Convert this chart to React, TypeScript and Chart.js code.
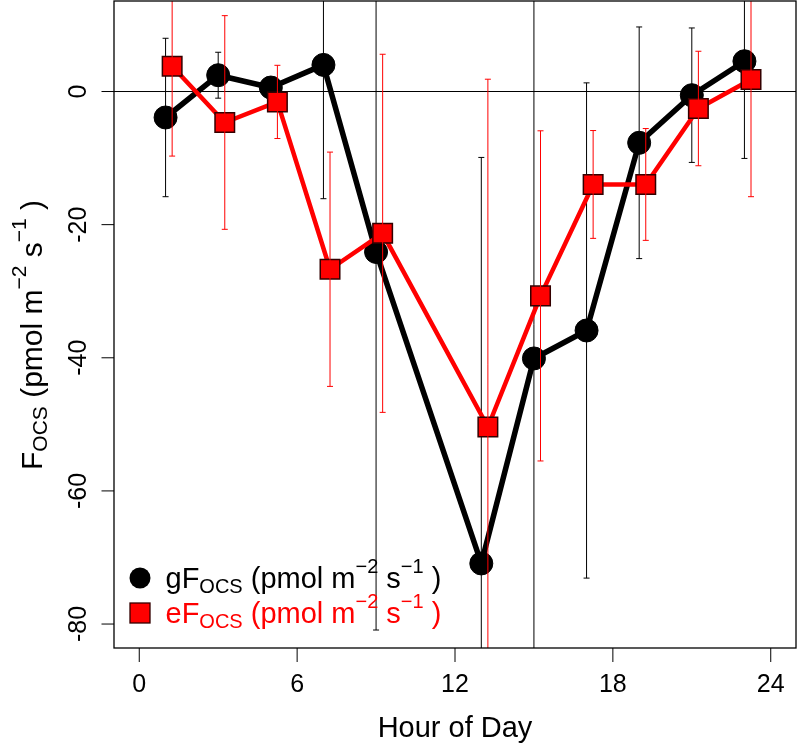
import React, { useEffect, useRef } from 'react';
import { Chart, registerables } from 'chart.js';
Chart.register(...registerables);

// ---- data ----
const hoursG = [1, 3, 5, 7, 9, 13, 15, 17, 19, 21, 23];
const hoursE = [1.25, 3.25, 5.25, 7.25, 9.25, 13.25, 15.25, 17.25, 19.25, 21.25, 23.25];
const gFocs = [-3.9, 2.45, 0.6, 4.0, -24.1, -70.9, -40.1, -35.9, -7.7, -0.55, 4.55];
const gFocsErr = [11.9, 3.45, 1.0, 20.1, 56.8, 61.0, 60.0, 37.2, 17.4, 10.1, 14.6];
const eFocs = [3.8, -4.65, -1.56, -26.7, -21.3, -50.4, -30.7, -13.96, -13.96, -2.55, 1.8];
const eFocsErr = [13.5, 16.05, 5.5, 17.6, 26.9, 52.25, 24.8, 8.1, 8.4, 8.6, 17.6];
const xTicks = [0, 6, 12, 18, 24];
const yTicks = [-80, -60, -40, -20, 0];
const xTitle = 'Hour of Day';
const X_MIN = -0.96, X_MAX = 24.96, Y_MIN = -83.6, Y_MAX = 13.6;

const FONT = '"Liberation Sans", Arial, Helvetica, sans-serif';
const RED = '#ff0000';

type Seg = { t: string; s: number; dy: number };
function richSegs(prefix: string, size: number): Seg[] {
  const small = Math.round(size * 0.7);
  return [
    { t: prefix, s: size, dy: 0 },
    { t: 'OCS', s: small, dy: size * 0.15 },
    { t: ' (pmol m', s: size, dy: 0 },
    { t: '\u22122', s: small, dy: -size * 0.52 },
    { t: ' s', s: size, dy: 0 },
    { t: '\u22121', s: small, dy: -size * 0.52 },
    { t: ' )', s: size, dy: 0 },
  ];
}
function drawRich(ctx: CanvasRenderingContext2D, segs: Seg[], x: number, y: number, color: string) {
  ctx.fillStyle = color;
  ctx.textAlign = 'left';
  ctx.textBaseline = 'alphabetic';
  let cx = x;
  for (const sg of segs) {
    ctx.font = `${sg.s}px ${FONT}`;
    ctx.fillText(sg.t, cx, y + sg.dy);
    cx += ctx.measureText(sg.t).width;
  }
  return cx - x;
}

function drawErr(chart: any, xs: number[], ys: number[], errs: number[], color: string) {
  const { ctx, chartArea: a, scales } = chart;
  const xs_ = scales.x, ys_ = scales.y;
  ctx.save();
  ctx.beginPath();
  ctx.rect(a.left, a.top, a.right - a.left, a.bottom - a.top);
  ctx.clip();
  ctx.strokeStyle = color;
  ctx.lineWidth = 1;
  xs.forEach((h, i) => {
    const px = xs_.getPixelForValue(h);
    const top = ys_.getPixelForValue(ys[i] + errs[i]);
    const bot = ys_.getPixelForValue(ys[i] - errs[i]);
    ctx.beginPath();
    ctx.moveTo(px, top); ctx.lineTo(px, bot);
    ctx.moveTo(px - 3, top); ctx.lineTo(px + 3, top);
    ctx.moveTo(px - 3, bot); ctx.lineTo(px + 3, bot);
    ctx.stroke();
  });
  ctx.restore();
}

const decor = {
  id: 'decor',
  beforeDraw(chart: any) {
    const { ctx, width, height } = chart;
    ctx.save();
    ctx.fillStyle = '#fff';
    ctx.fillRect(0, 0, width, height);
    ctx.restore();
  },
  beforeDatasetsDraw(chart: any) {
    const { ctx, chartArea: a, scales } = chart;
    const y0 = scales.y.getPixelForValue(0);
    ctx.save();
    ctx.strokeStyle = '#000';
    ctx.lineWidth = 1;
    ctx.beginPath();
    ctx.moveTo(a.left, y0); ctx.lineTo(a.right, y0);
    ctx.stroke();
    ctx.restore();
  },
  afterDatasetDraw(chart: any, args: any) {
    if (args.index === 0) drawErr(chart, hoursG, gFocs, gFocsErr, '#000');
    if (args.index === 1) drawErr(chart, hoursE, eFocs, eFocsErr, RED);
  },
  afterDraw(chart: any) {
    const { ctx, chartArea: a, scales } = chart;
    const sx = scales.x, sy = scales.y;
    ctx.save();
    // box
    ctx.strokeStyle = '#000';
    ctx.lineWidth = 1.3;
    ctx.strokeRect(a.left, a.top, a.right - a.left, a.bottom - a.top);
    // ticks
    ctx.lineWidth = 1;
    ctx.beginPath();
    xTicks.forEach((v) => {
      const px = sx.getPixelForValue(v);
      ctx.moveTo(px, a.bottom); ctx.lineTo(px, a.bottom + 14);
    });
    yTicks.forEach((v) => {
      const py = sy.getPixelForValue(v);
      ctx.moveTo(a.left, py); ctx.lineTo(a.left - 12.5, py);
    });
    ctx.stroke();
    // tick labels
    ctx.fillStyle = '#000';
    ctx.font = `25px ${FONT}`;
    ctx.textAlign = 'center';
    ctx.textBaseline = 'alphabetic';
    xTicks.forEach((v) => {
      ctx.fillText(String(v), sx.getPixelForValue(v), a.bottom + 43.5);
    });
    yTicks.forEach((v) => {
      const py = sy.getPixelForValue(v);
      ctx.save();
      ctx.translate(a.left - 28, py);
      ctx.rotate(-Math.PI / 2);
      ctx.fillText(String(v), 0, 0);
      ctx.restore();
    });
    // x title
    ctx.font = `29px ${FONT}`;
    ctx.fillText(xTitle, (a.left + a.right) / 2, a.bottom + 89);
    // y title
    ctx.save();
    ctx.translate(42, 470);
    ctx.rotate(-Math.PI / 2);
    drawRich(ctx, richSegs('F', 30), 0, 0, '#000');
    ctx.restore();
    // legend
    const lx = 140;
    ctx.fillStyle = '#000';
    ctx.beginPath();
    ctx.arc(lx, 578, 10.5, 0, Math.PI * 2);
    ctx.fill();
    ctx.fillStyle = RED;
    ctx.fillRect(lx - 10, 603, 20, 20);
    ctx.strokeStyle = '#300';
    ctx.lineWidth = 1.3;
    ctx.strokeRect(lx - 10, 603, 20, 20);
    drawRich(ctx, richSegs('gF', 29), 165.5, 588.3, '#000');
    drawRich(ctx, richSegs('eF', 29), 165.5, 623.3, RED);
    ctx.restore();
  },
};

export default function App() {
  const ref = useRef<HTMLCanvasElement>(null);
  useEffect(() => {
    const chart = new Chart(ref.current!, {
      type: 'scatter',
      data: {
        datasets: [
          {
            label: 'gFOCS',
            data: hoursG.map((h, i) => ({ x: h, y: gFocs[i] })),
            showLine: true,
            order: 2,
            borderColor: '#000',
            borderWidth: 5.5,
            borderJoinStyle: 'round',
            borderCapStyle: 'round',
            pointStyle: 'circle',
            pointRadius: 11.5,
            pointBackgroundColor: '#000',
            pointBorderColor: '#000',
            pointBorderWidth: 1,
          } as any,
          {
            label: 'eFOCS',
            data: hoursE.map((h, i) => ({ x: h, y: eFocs[i] })),
            showLine: true,
            order: 1,
            borderColor: RED,
            borderWidth: 4.5,
            borderJoinStyle: 'round',
            borderCapStyle: 'round',
            pointStyle: 'rect',
            pointRadius: 13.8,
            pointBackgroundColor: RED,
            pointBorderColor: '#300',
            pointBorderWidth: 1.5,
          } as any,
        ],
      },
      options: {
        animation: false,
        responsive: false,
        devicePixelRatio: 1,
        layout: { autoPadding: false, padding: { left: 114, right: 3, top: 1, bottom: 99 } },
        plugins: { legend: { display: false }, tooltip: { enabled: false } },
        events: [],
        scales: {
          x: { type: 'linear', min: X_MIN, max: X_MAX, display: false },
          y: { type: 'linear', min: Y_MIN, max: Y_MAX, display: false },
        },
      } as any,
      plugins: [decor],
    });
    return () => chart.destroy();
  }, []);
  return (
    <div style={{ position: 'absolute', left: 0, top: 0, width: 799, height: 747, background: '#fff' }}>
      <canvas ref={ref} width={799} height={747} style={{ display: 'block', width: 799, height: 747 }} />
    </div>
  );
}
